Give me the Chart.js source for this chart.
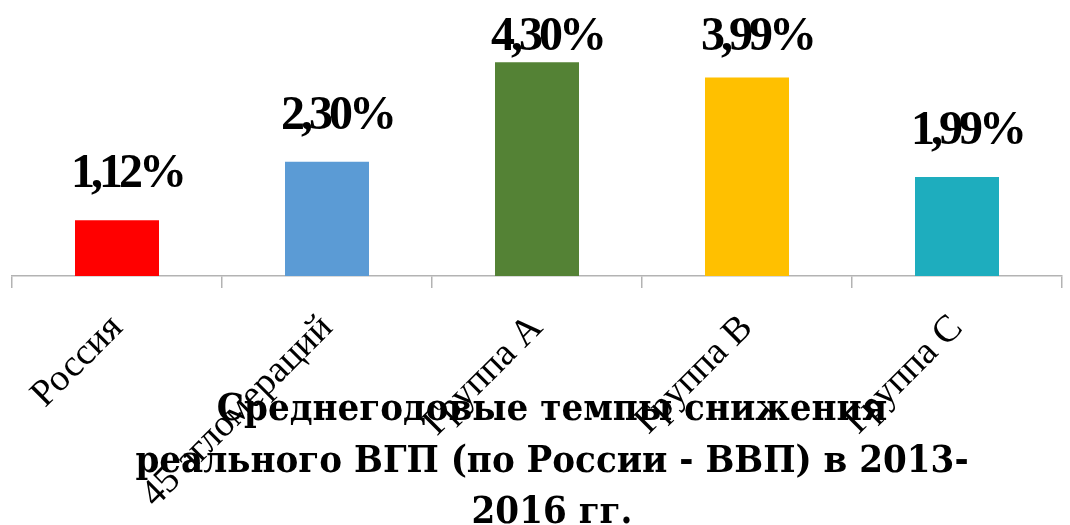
<!DOCTYPE html>
<html>
<head>
<meta charset="utf-8">
<script src="https://cdn.jsdelivr.net/npm/chart.js@4"></script>
<style>
  html, body { margin: 0; padding: 0; background: #fff; }
  #wrap { width: 1070px; height: 525px; }
</style>
</head>
<body>
<div id="wrap"><canvas id="gdpChart"></canvas></div>
<script>
// категории и значения (среднегодовые темпы снижения, %)
const categories = ['Россия', '45 агломераций', 'Группа А', 'Группа В', 'Группа С'];
const rates = [1.12, 2.30, 4.30, 3.99, 1.99];
const barColors = ['#FF0000', '#5B9BD5', '#548235', '#FFC000', '#1EADBE'];
const titleLines = ['Среднегодовые темпы снижения', 'реального ВГП (по России - ВВП) в 2013-', '2016 гг.'];

// подписи значений над столбцами
const valueLabels = {
    id: 'valueLabels',
    afterDatasetsDraw(chart) {
        const ctx = chart.ctx;
        const meta = chart.getDatasetMeta(0);
        ctx.save();
        ctx.font = 'bold 48px "Liberation Serif"';
        ctx.fillStyle = '#000';
        ctx.textAlign = 'center';
        ctx.textBaseline = 'alphabetic';
        ctx.letterSpacing = '-4px';
        meta.data.forEach((bar, i) => {
            const txt = rates[i].toFixed(2).replace('.', ',') + '%';
            // не выше верхней границы
            const y = Math.max(bar.y - 33, 50);
            ctx.fillText(txt, bar.x + 10, y);
        });
        ctx.restore();
    }
};

// подписи оси заходят под заголовок, как в Excel
const overlapFix = {
    id: 'overlapFix',
    afterLayout(chart) {
        chart.scales.x.bottom = chart.height;
        if (chart.titleBlock) {
            chart.titleBlock.left += 15;
            chart.titleBlock.right += 15;
        }
    }
};

const ctx = document.getElementById('gdpChart').getContext('2d');
new Chart(ctx, {
    type: 'bar',
    data: {
        labels: categories,
        datasets: [{
            data: rates,
            backgroundColor: barColors,
            barPercentage: 0.8,
            categoryPercentage: 0.5
        }]
    },
    options: {
        responsive: true,
        maintainAspectRatio: false,
        animation: false,
        layout: { padding: { left: 12, right: 8, top: 0, bottom: 0 } },
        plugins: {
            legend: { display: false },
            tooltip: { enabled: false },
            title: {
                display: true,
                position: 'bottom',
                text: titleLines,
                color: '#000',
                font: { family: '"DejaVu Serif Condensed", "DejaVu Serif"', size: 38, weight: 'bold', lineHeight: 1.355 },
                padding: { top: 0, bottom: -14 }
            }
        },
        scales: {
            y: {
                display: false,
                min: 0,
                max: 5.55
            },
            x: {
                afterFit(scale) { scale.height = 108.5; },
                border: { display: true, color: '#b3b3b3', width: 1.5 },
                grid: {
                    display: true,
                    offset: true,
                    drawOnChartArea: false,
                    drawTicks: true,
                    tickLength: 12,
                    color: '#b3b3b3',
                    lineWidth: 1.5
                },
                ticks: {
                    autoSkip: false,
                    minRotation: 45,
                    maxRotation: 45,
                    padding: 18,
                    color: '#000',
                    font: { family: '"Liberation Serif"', size: 38 }
                }
            }
        }
    },
    plugins: [valueLabels, overlapFix]
});
</script>
</body>
</html>
